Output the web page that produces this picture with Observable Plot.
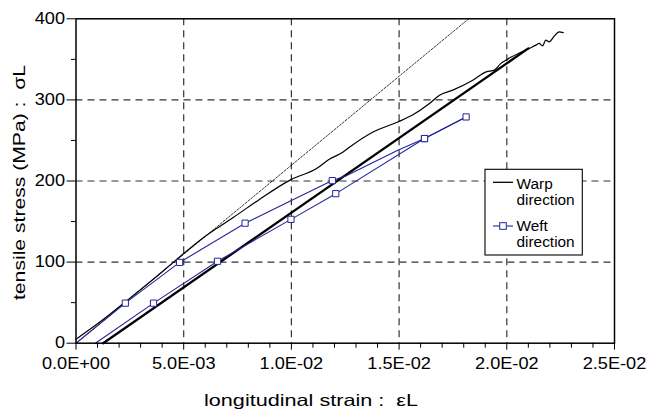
<!DOCTYPE html>
<html><head><meta charset="utf-8">
<script src="https://cdn.jsdelivr.net/npm/d3@7"></script>
<script src="https://cdn.jsdelivr.net/npm/@observablehq/plot@0.6"></script>
<style>
body{margin:0;background:#fff;}
#chart{width:655px;height:412px;}
</style></head><body><div id="chart"></div>
<script>
// ---- data ----
const warpStrain = [0, 0.0012, 0.00237, 0.0035, 0.00453, 0.00576, 0.0065, 0.0073, 0.0085, 0.00998, 0.01117, 0.01178, 0.0124, 0.01271, 0.01379, 0.01494, 0.0156, 0.01641, 0.01688, 0.01749, 0.01842, 0.01904, 0.01942, 0.01973, 0.01996, 0.02104, 0.02135, 0.0215, 0.02166, 0.02181, 0.02197, 0.0222, 0.02243, 0.02262];
const warpStress = [5, 28, 52.7, 77, 100, 127, 141, 155, 177, 201.7, 215.3, 227, 235.8, 242, 260.5, 272.8, 281, 295.5, 305.8, 312, 324.3, 334.6, 336.7, 345, 349, 363.5, 367.5, 369.6, 366.7, 373.7, 371.6, 378.6, 384, 383];
const warpUnloadStrain = [0.00126, 0.0210];
const warpUnloadStress = [0, 363.5];
const tangentStrain = [0, 0.01823];
const tangentStress = [0, 400];
const weftLoadStrain = [0, 0.00229, 0.00481, 0.00785, 0.0100, 0.0119, 0.0125, 0.01494, 0.01618, 0.01811];
const weftLoadStress = [0, 49.4, 99.6, 148, 176, 200.5, 206, 238, 252.3, 279];
const weftReloadStrain = [0.0009, 0.0036, 0.00657, 0.00998, 0.01206, 0.01618, 0.01811];
const weftReloadStress = [0, 49.4, 101, 152.7, 184.4, 252.3, 279];
const weftLoadMarkerIdx = [1, 2, 3, 5, 8];
const weftReloadMarkerIdx = [1, 2, 3, 4, 5, 6];
const xTicks = [0, 0.005, 0.01, 0.015, 0.02, 0.025];
const xTickLabels = ["0.0E+00", "5.0E-03", "1.0E-02", "1.5E-02", "2.0E-02", "2.5E-02"];
const xMinor = [0.001, 0.002, 0.003, 0.004, 0.006, 0.007, 0.008, 0.009, 0.011, 0.012, 0.013, 0.014, 0.016, 0.017, 0.018, 0.019, 0.021, 0.022, 0.023, 0.024];
const yTicks = [0, 100, 200, 300, 400];
const yTickLabels = ["0", "100", "200", "300", "400"];
const yMinor = [50, 150, 250, 350];
const xGrid = [0.005, 0.01, 0.015, 0.02];
const yGrid = [100, 200, 300];
const seriesLabels = [["Warp", "direction"], ["Weft", "direction"]];
const xTitle = "longitudinal strain :  \u03b5L";
const yTitle = "tensile stress (MPa) :  \u03c3L";

const BLUE = "#24249c";
const zip = (xs, ys) => xs.map((x, i) => ({x, y: ys[i]}));
const warp = zip(warpStrain, warpStress);
const unload = zip(warpUnloadStrain, warpUnloadStress);
const tangent = zip(tangentStrain, tangentStress);
const weftLoad = zip(weftLoadStrain, weftLoadStress);
const weftReload = zip(weftReloadStrain, weftReloadStress);
const weftMarkers = weftLoadMarkerIdx.map(i => weftLoad[i]).concat(weftReloadMarkerIdx.map(i => weftReload[i]));

const grid = {stroke: "#333", strokeOpacity: 1, strokeWidth: 1.2, strokeDasharray: "7,5"};
const plot = Plot.plot({
  width: 655, height: 412,
  marginLeft: 75.5, marginRight: 41, marginTop: 18.3, marginBottom: 69.3,
  x: {domain: [0, 0.025], label: null},
  y: {domain: [0, 400], label: null},
  style: {fontFamily: "'Liberation Sans', Arial, sans-serif", fontSize: "16.5px", color: "#000", background: "#fff", overflow: "visible"},
  marks: [
    Plot.gridX({ticks: xGrid, ...grid}),
    Plot.gridY({ticks: yGrid, ...grid}),
    Plot.line(tangent, {x: "x", y: "y", stroke: "#000", strokeWidth: 0.8, strokeDasharray: "2,1.6"}),
    Plot.line(unload, {x: "x", y: "y", stroke: "#000", strokeWidth: 2.3}),
    Plot.line(warp, {x: "x", y: "y", stroke: "#000", strokeWidth: 1.2, curve: "monotone-x"}),
    Plot.line(weftLoad, {x: "x", y: "y", stroke: BLUE, strokeWidth: 1.1}),
    Plot.line(weftReload, {x: "x", y: "y", stroke: BLUE, strokeWidth: 1.1}),
    Plot.dot(weftMarkers, {x: "x", y: "y", symbol: "square", r: 3.5, stroke: BLUE, fill: "white", strokeWidth: 1}),
    Plot.axisX({ticks: xMinor, tickSize: 5, tickFormat: () => "", label: null}),
    Plot.axisX({ticks: xTicks, tickSize: 7, tickPadding: 7.5, tickFormat: d => xTickLabels[xTicks.indexOf(d)], label: null}),
    Plot.axisY({ticks: yMinor, tickSize: 4.5, tickFormat: () => "", label: null}),
    Plot.axisY({ticks: yTicks, tickSize: 9, tickPadding: 2, tickFormat: d => yTickLabels[yTicks.indexOf(d)], label: null}),
    Plot.frame({stroke: "#000", strokeWidth: 1.5})
  ]
});
document.getElementById("chart").append(plot);

// widen tick labels slightly to match the reference's wide lettering
d3.select(plot).selectAll("text").each(function() {
  if (!this.textContent) return;
  const len = this.getComputedTextLength();
  this.setAttribute("textLength", (len * 1.1).toFixed(1));
  this.setAttribute("lengthAdjust", "spacingAndGlyphs");
});

const svg = d3.select(plot);
const ff = "'Liberation Sans', Arial, sans-serif";
// axis titles
svg.append("text").attr("x", 311).attr("y", 406).attr("text-anchor", "middle")
  .attr("font-family", ff).attr("font-size", 16.5).attr("fill", "#000").attr("stroke", "none")
  .attr("textLength", 214).attr("lengthAdjust", "spacingAndGlyphs").text(xTitle);
svg.append("text").attr("transform", "translate(24.5,182.5) rotate(-90)").attr("text-anchor", "middle")
  .attr("font-family", ff).attr("font-size", 16.5).attr("fill", "#000").attr("stroke", "none")
  .attr("textLength", 235).attr("lengthAdjust", "spacingAndGlyphs").text(yTitle);

// legend
const lg = svg.append("g").attr("font-family", ff).attr("font-size", 15.4).attr("fill", "#000").attr("text-anchor", "start");
lg.append("rect").attr("x", 485).attr("y", 169.3).attr("width", 97.3).attr("height", 85.7)
  .attr("fill", "white").attr("stroke", "#000").attr("stroke-width", 1.1);
lg.append("line").attr("x1", 493).attr("x2", 513).attr("y1", 182.3).attr("y2", 182.3).attr("stroke", "#000").attr("stroke-width", 1.3);
lg.append("line").attr("x1", 493).attr("x2", 513).attr("y1", 226).attr("y2", 226).attr("stroke", BLUE).attr("stroke-width", 1.1);
lg.append("rect").attr("x", 499.7).attr("y", 222.7).attr("width", 6.6).attr("height", 6.6).attr("fill", "white").attr("stroke", BLUE).attr("stroke-width", 1);
const ys = [[189, 205], [231, 247]];
seriesLabels.forEach((lines, k) => lines.forEach((t, j) =>
  lg.append("text").attr("x", 516.5).attr("y", ys[k][j]).attr("text-anchor", "start").text(t)));
</script></body></html>
